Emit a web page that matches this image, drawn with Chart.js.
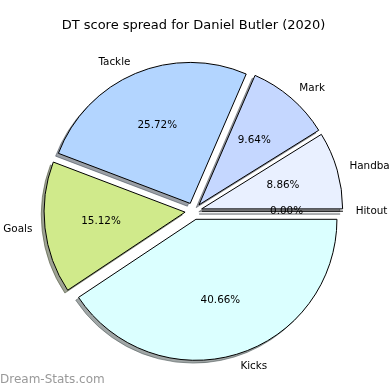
<!DOCTYPE html>
<html>
<head>
<meta charset="utf-8">
<script src="https://cdn.jsdelivr.net/npm/chart.js@4/dist/chart.umd.min.js"></script>
<style>
  html, body { margin: 0; padding: 0; background: #fff; }
  #wrap { width: 390px; height: 390px; }
</style>
</head>
<body>
<div id="wrap"><canvas id="pieChart" width="390" height="390"></canvas></div>
<script>
// Slices in the order matplotlib lays them out (counter-clockwise from 3 o'clock)
const categories = ['Hitout', 'Handball', 'Mark', 'Tackle', 'Goals', 'Kicks'];
const shares = [0.00, 8.86, 9.64, 25.72, 15.12, 40.66];
const sliceColors = ['#dcecff', '#e9f0ff', '#c5d7ff', '#b3d5ff', '#d0ea8b', '#dbffff'];

// Chart.js goes clockwise, so feed it the reverse order
const labelsCw = categories.slice().reverse();
const valuesCw = shares.slice().reverse();
const colorsCw = sliceColors.slice().reverse();

const EXPLODE = 0.06;     // fraction of radius each wedge is pushed out
const SHADOW = 0.02;      // shadow shift, fraction of radius
const LABEL_DIST = 1.09;
const PCT_DIST = 0.6;
const total = shares.reduce((a, b) => a + b, 0);

function wedgeGeometry(meta) {
  return meta.data.map(arc => {
    const p = arc.getProps(['x', 'y', 'startAngle', 'endAngle', 'outerRadius'], true);
    const mid = (p.startAngle + p.endAngle) / 2;
    const d = EXPLODE * p.outerRadius;
    return Object.assign({}, p, {
      mid: mid,
      cx: p.x + Math.cos(mid) * d,
      cy: p.y + Math.sin(mid) * d
    });
  });
}

function shadowColor(hex) {
  const n = parseInt(hex.slice(1), 16);
  const r = Math.round(((n >> 16) & 255) * 0.3);
  const g = Math.round(((n >> 8) & 255) * 0.3);
  const b = Math.round((n & 255) * 0.3);
  return `rgba(${r},${g},${b},0.5)`;
}

const mplPie = {
  id: 'mplPie',
  beforeDatasetDraw(chart, args) {
    const ctx = chart.ctx;
    const geo = wedgeGeometry(args.meta);

    // shadows first, all of them, like matplotlib's zorder
    geo.forEach((g, i) => {
      const s = SHADOW * g.outerRadius;
      const x = g.cx - s, y = g.cy + s;
      ctx.save();
      ctx.fillStyle = ctx.strokeStyle = shadowColor(colorsCw[i]);
      ctx.lineWidth = 1;
      ctx.beginPath();
      ctx.moveTo(x, y);
      ctx.arc(x, y, g.outerRadius, g.startAngle, g.endAngle);
      ctx.closePath();
      ctx.fill();
      ctx.stroke();
      ctx.restore();
    });

    // wedges
    args.meta.data.forEach((arc, i) => {
      const g = geo[i];
      ctx.save();
      if (g.endAngle - g.startAngle > 0) {
        ctx.translate(g.cx - g.x, g.cy - g.y);
        arc.draw(ctx);
      } else {
        // zero-size wedge shows only as its edge line
        ctx.strokeStyle = '#000';
        ctx.lineWidth = 1;
        ctx.beginPath();
        ctx.moveTo(g.cx, g.cy);
        ctx.lineTo(g.cx + Math.cos(g.mid) * g.outerRadius, g.cy + Math.sin(g.mid) * g.outerRadius);
        ctx.stroke();
      }
      ctx.restore();
    });
    return false;
  },
  afterDatasetsDraw(chart) {
    const ctx = chart.ctx;
    const geo = wedgeGeometry(chart.getDatasetMeta(0));
    ctx.save();
    ctx.font = '10.4px "DejaVu Sans"';
    ctx.fillStyle = '#000';
    ctx.textBaseline = 'middle';
    geo.forEach((g, i) => {
      const c = Math.cos(g.mid), s = Math.sin(g.mid);
      const r = g.outerRadius;
      ctx.textAlign = c >= 0 ? 'left' : 'right';
      ctx.fillText(labelsCw[i], g.cx + c * r * LABEL_DIST, g.cy + s * r * LABEL_DIST);
      ctx.textAlign = 'center';
      ctx.fillText((valuesCw[i] / total * 100).toFixed(2) + '%', g.cx + c * r * PCT_DIST, g.cy + s * r * PCT_DIST);
    });
    ctx.restore();
  },
  afterDraw(chart) {
    const ctx = chart.ctx;
    ctx.save();
    ctx.font = '12px "DejaVu Sans"';
    ctx.fillStyle = '#999';
    ctx.textAlign = 'left';
    ctx.textBaseline = 'middle';
    ctx.fillText('Dream-Stats.com', 0, 380);
    ctx.restore();
  }
};

new Chart(document.getElementById('pieChart'), {
  type: 'pie',
  data: {
    labels: labelsCw,
    datasets: [{
      data: valuesCw,
      backgroundColor: colorsCw,
      borderColor: '#000',
      borderWidth: 1
    }]
  },
  options: {
    responsive: false,
    animation: false,
    devicePixelRatio: 1,
    rotation: 90,
    radius: 141,
    layout: { padding: { left: 0, right: 3, top: 0, bottom: 8.2 } },
    plugins: {
      legend: { display: false },
      tooltip: { enabled: false },
      title: {
        display: true,
        text: 'DT score spread for Daniel Butler (2020)',
        color: '#000',
        font: { family: 'DejaVu Sans', size: 13, weight: 'normal' },
        padding: { top: 18, bottom: 7 }
      }
    }
  },
  plugins: [mplPie]
});
</script>
</body>
</html>
